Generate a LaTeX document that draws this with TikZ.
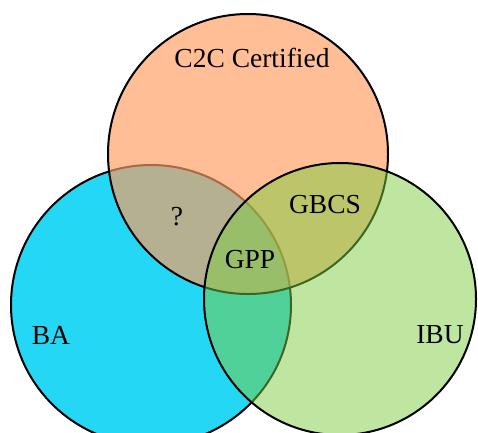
\documentclass[tikz,border=0pt]{standalone}
\usepackage{fontspec}
\setmainfont{Liberation Serif}
\definecolor{cyanc}{RGB}{35,215,245}
\definecolor{orangec}{RGB}{255,158,98}
\definecolor{greenc}{RGB}{125,205,65}
\tikzset{
  ring/.style={draw=black, line width=2pt},
  lbl/.style={font=\fontsize{27.5}{32}\selectfont, text=black, inner sep=0pt}
}
\begin{document}
\begin{tikzpicture}[x=1pt,y=-1pt]
\useasboundingbox (0,0) rectangle (478,432);
\begin{scope}
\clip (0,0) rectangle (478,432);
\draw[ring, fill=cyanc] (151,305) circle[radius=140pt];
\draw[ring, fill=orangec, fill opacity=0.67] (248,154) circle[radius=140pt];
\draw[ring, fill=greenc, fill opacity=0.5] (340,299) circle[radius=136pt];
\end{scope}
\node[lbl] (c2c) at (252,58) {C2C Certified};
\node[lbl] (q) at (177,217) {?};
\node[lbl] (gbcs) at (325,205) {GBCS};
\node[lbl] (gpp) at (250,260) {GPP};
\node[lbl] (ba) at (51,335) {BA};
\node[lbl] (ibu) at (440,335) {IBU};
\end{tikzpicture}
\end{document}
